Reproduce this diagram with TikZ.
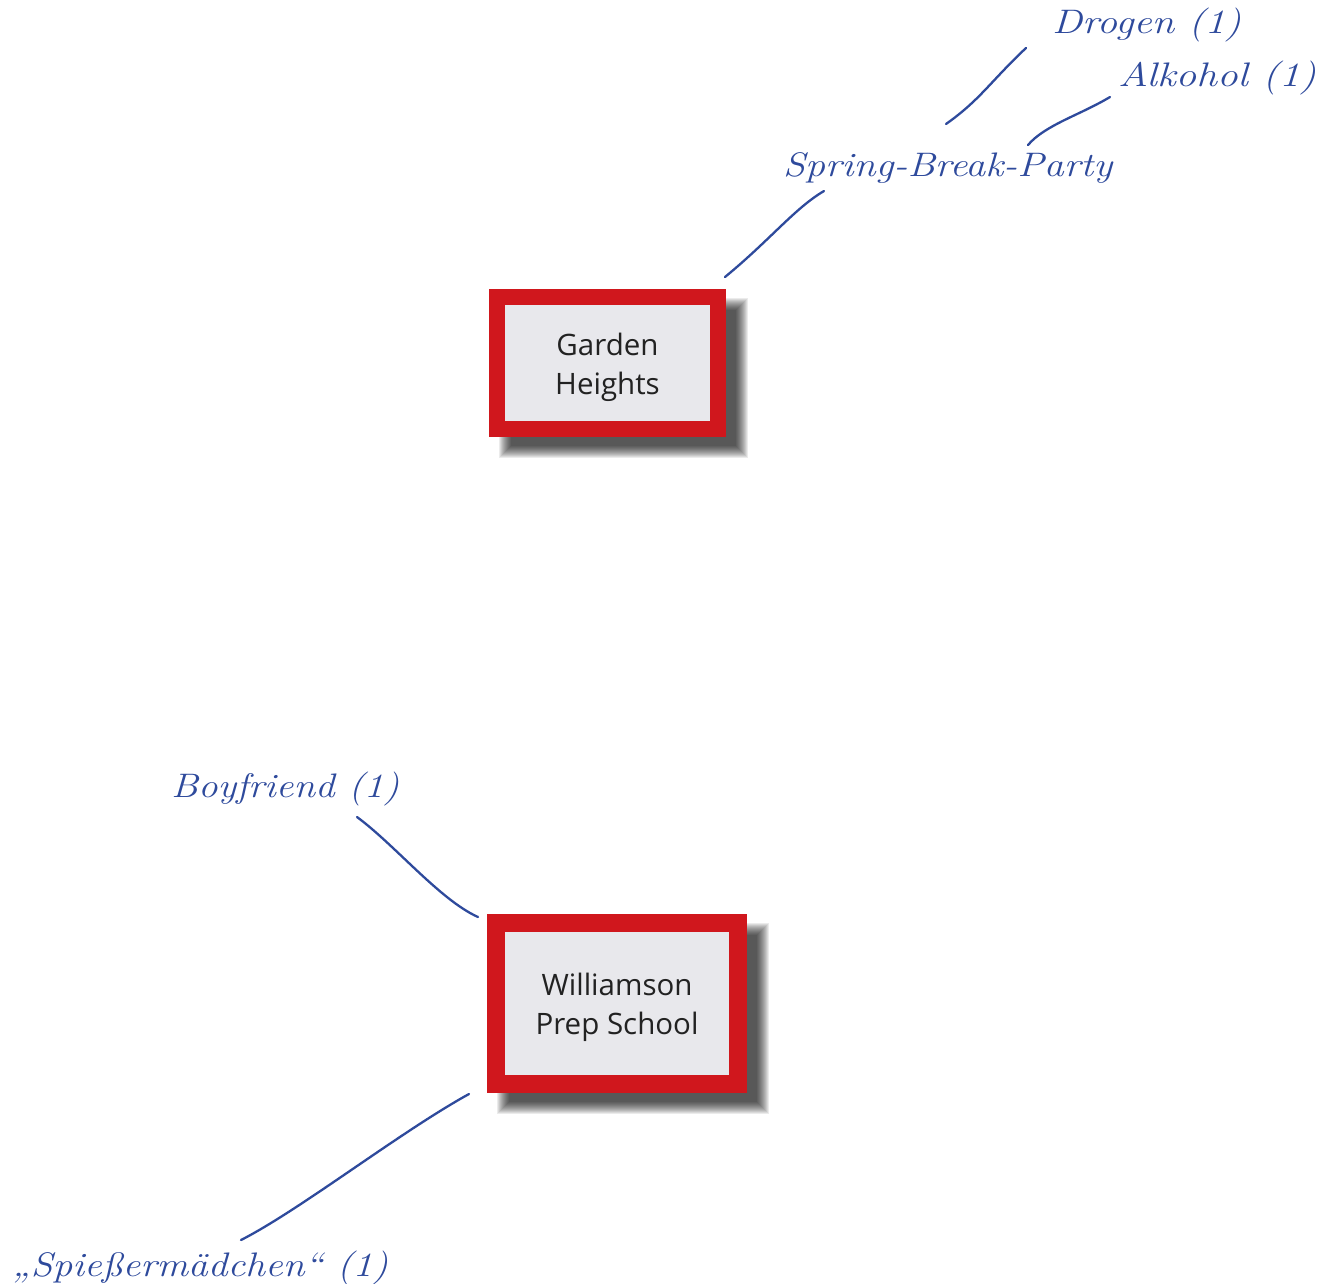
\documentclass[tikz,border=0pt]{standalone}
\usepackage{fontspec}
\usepackage{graphicx}
\newfontfamily\boxfont{Open Sans}
\definecolor{boxred}{HTML}{D0171D}
\definecolor{boxfill}{HTML}{E8E8EC}
\definecolor{boxtext}{HTML}{222222}
\definecolor{inkblue}{HTML}{2E4A9C}
\newcommand{\hwtext}[2]{\resizebox{#1pt}{\height}{#2}}
\newcommand{\blurshadow}[4]{%
  \foreach \e in {6,5,...,-6}{%
    \fill[black,opacity=0.08] ({#1+16-\e},{#2+15-\e}) rectangle ({#3+16+\e},{#4+15+\e});
  }}
\tikzset{
  placebox/.style={draw=boxred, fill=boxfill, inner sep=0pt},
  boxlabel/.style={text=boxtext, align=center,
    font=\boxfont\fontsize{29.5}{39}\selectfont, inner sep=0pt},
  hw/.style={text=inkblue, font=\itshape\fontsize{34}{40}\selectfont, inner sep=0pt, anchor=base west},
  ink/.style={draw=inkblue, line width=2.3pt, line cap=round}
}
\begin{document}
\begin{tikzpicture}[x=1pt,y=-1pt]
\useasboundingbox (0,0) rectangle (1333,1283);
% shadows
\blurshadow{489}{289}{726}{437}
\blurshadow{487}{914}{747}{1093}
% boxes
\node[placebox, line width=16pt, minimum width=221pt, minimum height=132pt,
  label={[boxlabel,yshift=-4pt]center:Garden\\Heights}] (gh) at (607.5,363) {};
\node[placebox, line width=18pt, minimum width=242pt, minimum height=161pt,
  label={[boxlabel,yshift=-4pt]center:Williamson\\Prep School}] (wps) at (617,1003.5) {};
% labels
\node[hw] (drogen) at (1052,33) {\hwtext{189}{Drogen (1)}};
\node[hw] (alkohol) at (1118,86) {\hwtext{198}{Alkohol (1)}};
\node[hw] (sbp) at (783,176) {\hwtext{329}{Spring-Break-Party}};
\node[hw] (boy) at (171,797) {\hwtext{228}{Boyfriend (1)}};
\node[hw] (spiess) at (12,1276) {\hwtext{376}{„Spießermädchen“ (1)}};
% connector ends
\coordinate (sbpA) at (824,191);
\coordinate (ghA) at (725,277);
\coordinate (drA) at (1026,48);
\coordinate (sbpB) at (946,124);
\coordinate (alA) at (1110,97);
\coordinate (sbpC) at (1028,145);
\coordinate (boyA) at (357,817);
\coordinate (wpsA) at (478,917);
\coordinate (wpsB) at (469,1094);
\coordinate (spA) at (241,1240);
% connectors
\draw[ink] (sbpA) .. controls (795,208) and (770,240) .. (ghA);
\draw[ink] (drA) .. controls (990,82) and (980,100) .. (sbpB);
\draw[ink] (alA) .. controls (1080,115) and (1045,125) .. (sbpC);
\draw[ink] (boyA) .. controls (395,845) and (440,900) .. (wpsA);
\draw[ink] (wpsB) .. controls (400,1132) and (300,1210) .. (spA);
\end{tikzpicture}
\end{document}
